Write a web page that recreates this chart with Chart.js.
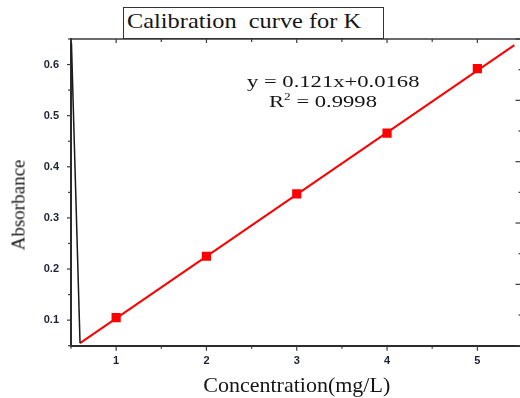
<!DOCTYPE html>
<html>
<head>
<meta charset="utf-8">
<script src="https://cdn.jsdelivr.net/npm/chart.js@4.4.1/dist/chart.umd.min.js"></script>
<style>
  html, body { margin: 0; padding: 0; background: #fff; overflow: hidden; }
  #wrap { position: relative; width: 520px; height: 398px; overflow: hidden; background: #fff; }
  #calib { position: absolute; left: 0; top: 0; }
  .serif { position: absolute; font-family: 'Liberation Serif', 'Times New Roman', serif; color: #151515; white-space: pre; line-height: 1; transform-origin: left top; }
  #titleBox { position: absolute; left: 123px; top: 7px; width: 259px; height: 30px; border: 1px solid #333; background: #fff; }
  #chartTitle { left: 127px; top: 10.7px; font-size: 21px; transform: scaleX(1.16); }
  #eq1 { left: 246.7px; top: 72.8px; font-size: 17px; transform: scaleX(1.33); }
  #eq2 { left: 269px; top: 92.5px; font-size: 17px; transform: scaleX(1.33); }
  #eq2 .sup { position: relative; top: -7px; font-size: 10px; }
  #ylab { left: 18px; top: 205px; font-size: 19px; transform-origin: center center; transform: translate(-50%, -50%) rotate(-90deg); }
</style>
</head>
<body>
<div id="wrap">
  <canvas id="calib" width="529" height="398"></canvas>
  <div id="titleBox"></div>
  <div class="serif" id="chartTitle">Calibration  curve for K</div>
  <div class="serif" id="eq1">y = 0.121x+0.0168</div>
  <div class="serif" id="eq2">R<span class="sup">2</span> = 0.9998</div>
  <div class="serif" id="ylab">Absorbance</div>
</div>
<script>
// standards (mg/L) and measured absorbance
const concentration = [1, 2, 3, 4, 5];
const absorbance = [0.105, 0.225, 0.347, 0.466, 0.592];

// fitted line as drawn in the picture
const fitX = [0.6, 5.41];
const fitY = [0.055, 0.638];

// stray black trace at the left edge
const traceX = [0.505, 0.6];
const traceY = [0.642, 0.055];

// ticks
const xTicks = [1, 2, 3, 4, 5];
const xTickLabels = ['1', '2', '3', '4', '5'];
const xMinor = [0.5, 1.5, 2.5, 3.5, 4.5, 5.5];
const yTicks = [0.1, 0.2, 0.3, 0.4, 0.5, 0.6];
const yTickLabels = ['0.1', '0.2', '0.3', '0.4', '0.5', '0.6'];
const yMinor = [0.05, 0.15, 0.25, 0.35, 0.45, 0.55, 0.65];
const rightTicks = [0, 1, 2, 3, 4, 5];
const rightMinor = [0.5, 1.5, 2.5, 3.5, 4.5];

const toPoints = (xs, ys) => xs.map((x, i) => ({ x: x, y: ys[i] }));

// frame + Origin style tick marks
const frameTicks = {
    id: 'frameTicks',
    afterDraw(chart) {
        const { ctx, chartArea: a, scales } = chart;
        const seg = (x1, y1, x2, y2) => {
            ctx.beginPath();
            ctx.moveTo(x1, y1);
            ctx.lineTo(x2, y2);
            ctx.stroke();
        };
        ctx.save();
        ctx.strokeStyle = '#3a3a3a';
        ctx.lineWidth = 1.5;
        seg(a.left, a.top, a.right, a.top);
        seg(a.right, a.top, a.right, a.bottom);

        ctx.lineWidth = 1.2;
        xTicks.forEach(v => {
            const px = scales.x.getPixelForValue(v);
            seg(px, a.bottom, px, a.bottom + 5);
            seg(px, a.top, px, a.top + 4);
        });
        xMinor.forEach(v => {
            const px = scales.x.getPixelForValue(v);
            seg(px, a.bottom, px, a.bottom + 3);
            seg(px, a.top, px, a.top + 3);
        });
        yTicks.forEach(v => {
            const py = scales.y.getPixelForValue(v);
            seg(a.left - 4, py, a.left, py);
        });
        yMinor.forEach(v => {
            const py = scales.y.getPixelForValue(v);
            seg(a.left - 3, py, a.left, py);
        });
        rightTicks.forEach(v => {
            const py = scales.y2.getPixelForValue(v);
            seg(a.right - 7, py, a.right, py);
        });
        rightMinor.forEach(v => {
            const py = scales.y2.getPixelForValue(v);
            seg(a.right - 4, py, a.right, py);
        });
        ctx.restore();
    }
};

const tickFont = { family: 'Liberation Sans', size: 11, weight: 'bold' };

const ctxCalib = document.getElementById('calib');
const calibChart = new Chart(ctxCalib, {
    type: 'scatter',
    data: {
        datasets: [{
            label: 'trace',
            data: toPoints(traceX, traceY),
            showLine: true,
            borderColor: '#1a1a1a',
            borderWidth: 1.5,
            pointRadius: 0
        }, {
            label: 'Linear fit',
            data: toPoints(fitX, fitY),
            showLine: true,
            borderColor: '#ff0000',
            borderWidth: 2,
            pointRadius: 0
        }, {
            label: 'K',
            data: toPoints(concentration, absorbance),
            showLine: false,
            pointStyle: 'rect',
            pointRadius: 6.5,
            backgroundColor: '#ff0000',
            borderColor: '#ff0000',
            borderWidth: 0
        }]
    },
    options: {
        responsive: false,
        animation: false,
        layout: { padding: { top: 39, right: 2, left: 0, bottom: 0 } },
        plugins: {
            legend: { display: false },
            tooltip: { enabled: false }
        },
        scales: {
            x: {
                type: 'linear',
                min: 0.5,
                max: 5.5,
                afterBuildTicks: s => { s.ticks = xTicks.map(v => ({ value: v })); },
                afterFit: s => { s.height = 52.3; },
                grid: { display: false, drawTicks: false },
                border: { display: true, color: '#2b2b2b', width: 2 },
                ticks: {
                    autoSkip: false,
                    maxRotation: 0,
                    padding: 9,
                    font: tickFont,
                    color: '#1c2233',
                    callback: (v, i) => xTickLabels[i]
                },
                title: {
                    display: true,
                    text: 'Concentration(mg/L)',
                    font: { family: 'Liberation Serif', size: 22, lineHeight: 1.1 },
                    color: '#151515',
                    padding: 0
                }
            },
            y: {
                min: 0.05,
                max: 0.65,
                afterBuildTicks: s => { s.ticks = yTicks.map(v => ({ value: v })); },
                afterFit: s => { s.width = 71; },
                grid: { display: false, drawTicks: false },
                border: { display: true, color: '#2b2b2b', width: 2 },
                ticks: {
                    autoSkip: false,
                    padding: 12,
                    font: tickFont,
                    color: '#1c2233',
                    callback: (v, i) => yTickLabels[i]
                }
            },
            y2: {
                display: false,
                position: 'right',
                min: 0,
                max: 5
            }
        }
    },
    plugins: [frameTicks]
});
</script>
</body>
</html>
